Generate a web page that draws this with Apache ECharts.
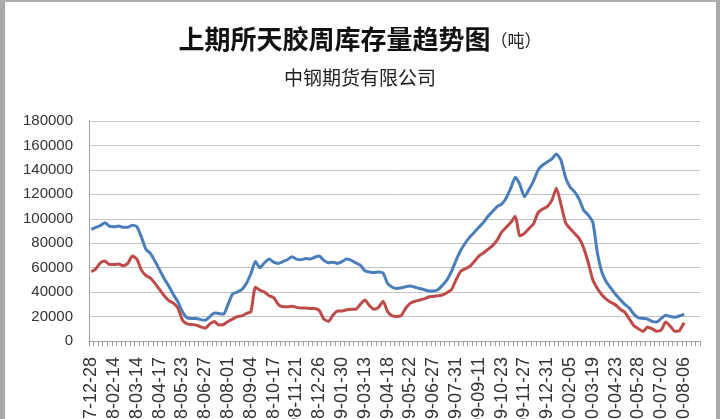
<!DOCTYPE html>
<html>
<head>
<meta charset="utf-8">
<script src="https://cdn.jsdelivr.net/npm/echarts@6/dist/echarts.min.js"></script>
<style>
    html, body { margin: 0; padding: 0; background: #fff; }
    #main { position: absolute; left: 0; top: 0; width: 720px; height: 419px; }
    #frame {
        position: absolute; left: 0; top: 0; width: 720px; height: 419px;
        box-sizing: border-box; pointer-events: none;
        border-left: 5px solid #a9a9a9; border-top: 2px solid #b0b0b0; border-right: 4px solid #a9a9a9;
    }
</style>
</head>
<body>
<div id="main"></div>
<div id="frame"></div>
<script>
// 横轴标签(每5周一个)
var tickLabels = ['2007-12-28', '2008-02-14', '2008-03-14', '2008-04-17', '2008-05-23', '2008-06-27', '2008-08-01',
    '2008-09-04', '2008-10-17', '2008-11-21', '2008-12-26', '2009-01-30', '2009-03-13', '2009-04-18',
    '2009-05-22', '2009-06-27', '2009-07-31', '2009-09-11', '2009-10-23', '2009-11-27', '2009-12-31',
    '2010-02-05', '2010-03-19', '2010-04-23', '2010-05-28', '2010-07-02', '2010-08-06'];

var labelStep = 5;
var categoryCount = 134;

// 蓝线 (吨)
var blueSeries = [91400, 93000, 94500, 96800, 94000, 93500, 94000, 93000, 93000, 94800,
    93500, 85000, 75000, 71500, 65000, 58000, 51000, 45000, 38000, 32000,
    24000, 19000, 18500, 18500, 17500, 17000, 20000, 23000, 22500, 22000,
    30000, 38500, 40000, 42000, 47000, 55000, 65000, 60000, 64000, 67000,
    64500, 63500, 65000, 66500, 69000, 67000, 66500, 67500, 67000, 68500,
    69500, 66000, 64000, 64500, 63500, 65000, 67000, 66000, 64000, 62000,
    57500, 56500, 56000, 56500, 55500, 47000, 44000, 43000, 43500, 44500,
    45000, 44000, 43000, 42000, 41000, 41000, 42000, 45500, 50000, 57000,
    66000, 74000, 80000, 85000, 89000, 93000, 97000, 102000, 106000, 110000,
    112000, 117000, 125000, 134000, 128000, 118000, 124000, 131000, 140000, 144000,
    146500, 149000, 153000, 148000, 134000, 126000, 122000, 116000, 107000, 103000,
    97000, 72000, 56000, 48000, 43000, 38000, 34000, 30000, 27000, 22000,
    19000, 18500, 18000, 16000, 15500, 18500, 21000, 20000, 19500, 20500,
    22000];

// 红线 (吨)
var redSeries = [56700, 59000, 64000, 65500, 62500, 62500, 63000, 61500, 63500, 69500,
    67000, 58000, 53500, 51500, 47000, 42000, 37000, 33000, 31000, 27000,
    17000, 14000, 13500, 13000, 11500, 10500, 14000, 16000, 13000, 13500,
    16000, 18000, 20000, 20500, 22500, 24000, 44000, 41500, 40000, 37000,
    35500, 30000, 28000, 28000, 28500, 27500, 27000, 27000, 26500, 26500,
    25000, 18000, 16000, 21000, 24500, 24500, 25500, 26000, 26000, 30000,
    33500, 29000, 26000, 27500, 32500, 24000, 20500, 20000, 21000, 27000,
    31000, 32500, 33500, 34500, 36000, 36500, 37000, 37600, 39500, 42000,
    50000, 57000, 59000, 61000, 65000, 69500, 72000, 75000, 78000, 82500,
    89000, 93000, 97000, 102000, 86000, 88000, 92000, 96000, 105000, 108000,
    110000, 115000, 125000, 112000, 97000, 92000, 88000, 84000, 76000, 64000,
    50000, 43000, 37600, 34000, 31500, 29500, 26000, 23500, 18000, 12500,
    10000, 7800, 11500, 10000, 8000, 9000, 15500, 12000, 8000, 8500,
    15000];

var categories = [];
for (var i = 0; i < categoryCount; i++) {
    categories.push(String(i));
}

function initECharts() {
    var myChart = echarts.init(document.getElementById('main'));

    var option = {
        backgroundColor: '#ffffff',
        animation: false,
        title: [{
            text: '{a|上期所天胶周库存量趋势图}{b|（吨）}',
            left: 'center',
            top: 21,
            textStyle: {
                rich: {
                    a: { fontFamily: 'Noto Sans CJK SC', fontSize: 26, fontWeight: 'bold', color: '#111' },
                    b: { fontFamily: 'Noto Sans CJK SC', fontSize: 17, fontWeight: 'normal', color: '#222', padding: [4, 0, 0, 0] }
                }
            }
        }, {
            text: '中钢期货有限公司',
            left: 'center',
            top: 63,
            textStyle: { fontFamily: 'Noto Sans CJK SC', fontSize: 19, fontWeight: 'normal', color: '#222' }
        }],
        grid: {
            left: 89,
            right: 20,
            top: 121,
            bottom: 78,
            outerBoundsMode: 'none'
        },
        xAxis: {
            type: 'category',
            data: categories,
            boundaryGap: true,
            axisLine: { lineStyle: { color: '#a0a0a0', width: 1 } },
            axisTick: { show: true, interval: 0, length: 5, lineStyle: { color: '#a0a0a0' } },
            axisLabel: {
                interval: labelStep - 1,
                rotate: 90,
                margin: 16,
                fontFamily: 'Liberation Sans',
                fontSize: 18,
                color: '#333',
                formatter: function (value, idx) {
                    return tickLabels[idx / labelStep] || '';
                }
            },
            splitLine: { show: false }
        },
        yAxis: {
            type: 'value',
            min: 0,
            max: 180000,
            interval: 20000,
            axisLine: { show: true, lineStyle: { color: '#a0a0a0' } },
            axisTick: { show: false },
            axisLabel: {
                margin: 16,
                fontFamily: 'Liberation Sans',
                fontSize: 15,
                color: '#333',
                formatter: function (v) { return String(v); }
            },
            splitLine: { lineStyle: { color: '#c4c4c4', width: 1 } }
        },
        series: [{
            name: '红',
            type: 'line',
            data: redSeries,
            showSymbol: false,
            smooth: 0.2,
            lineStyle: { color: '#be4b48', width: 3 }
        }, {
            name: '蓝',
            type: 'line',
            data: blueSeries,
            showSymbol: false,
            smooth: 0.2,
            lineStyle: { color: '#4a7ebb', width: 3 }
        }]
    };

    myChart.setOption(option);
}

initECharts();
</script>
</body>
</html>
